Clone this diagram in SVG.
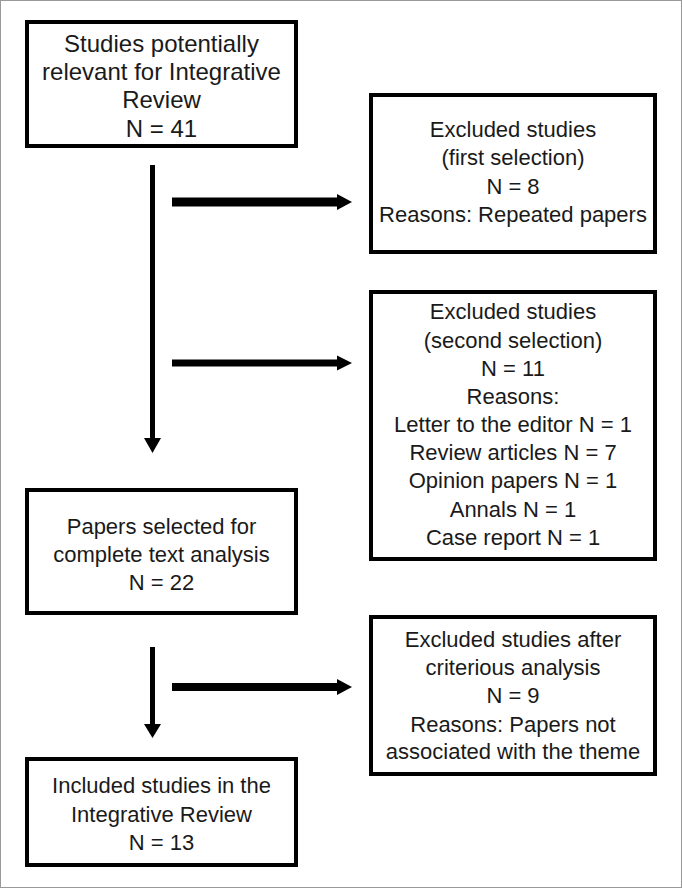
<svg xmlns="http://www.w3.org/2000/svg" width="682" height="888" viewBox="0 0 682 888">
<style>
.box{fill:#fff;stroke:#000;stroke-width:4}
.t{font-family:"Liberation Sans",Arial,sans-serif;font-size:22px;fill:#1a1a1a;text-anchor:middle}
.big{font-size:24px}
.c{fill:#000}
</style>
<rect x="0.5" y="0.5" width="681" height="887" fill="#fff" stroke="#999" stroke-width="1"/>
<g id="connectors">
<rect class="c" x="150" y="165" width="5" height="275"/>
<polygon class="c" points="144,438 161,438 152.5,453"/>
<rect class="c" x="172" y="197.5" width="166" height="9"/>
<polygon class="c" points="337,194 352,202 337,210"/>
<rect class="c" x="172" y="359.5" width="166" height="7"/>
<polygon class="c" points="337,355.5 352,363 337,370.5"/>
<rect class="c" x="150" y="647" width="5" height="79"/>
<polygon class="c" points="144,724 161,724 152.5,738"/>
<rect class="c" x="172" y="683" width="166" height="8"/>
<polygon class="c" points="337,679 352,687 337,695"/>
</g>
<g id="n1">
<rect class="box" x="27" y="22" width="269" height="124"/>
<text class="t big" x="161.5" y="52">Studies potentially</text>
<text class="t big" x="161.5" y="80">relevant for Integrative</text>
<text class="t big" x="161.5" y="108">Review</text>
<text class="t big" x="161.5" y="137">N = 41</text>
</g>
<g id="n2">
<rect class="box" x="371" y="95" width="284" height="157"/>
<text class="t" x="513" y="137">Excluded studies</text>
<text class="t" x="513" y="165">(first selection)</text>
<text class="t" x="513" y="194">N = 8</text>
<text class="t" x="513" y="222">Reasons: Repeated papers</text>
</g>
<g id="n3">
<rect class="box" x="371" y="292" width="284" height="267"/>
<text class="t" x="513" y="319">Excluded studies</text>
<text class="t" x="513" y="348">(second selection)</text>
<text class="t" x="513" y="376">N = 11</text>
<text class="t" x="513" y="404">Reasons:</text>
<text class="t" x="513" y="432">Letter to the editor N = 1</text>
<text class="t" x="513" y="460">Review articles N = 7</text>
<text class="t" x="513" y="488">Opinion papers N = 1</text>
<text class="t" x="513" y="517">Annals N = 1</text>
<text class="t" x="513" y="545">Case report N = 1</text>
</g>
<g id="n4">
<rect class="box" x="27" y="490" width="269" height="123"/>
<text class="t" x="161.5" y="534">Papers selected for</text>
<text class="t" x="161.5" y="562">complete text analysis</text>
<text class="t" x="161.5" y="590">N = 22</text>
</g>
<g id="n5">
<rect class="box" x="371" y="617" width="284" height="157"/>
<text class="t" x="513" y="647">Excluded studies after</text>
<text class="t" x="513" y="675">criterious analysis</text>
<text class="t" x="513" y="703">N = 9</text>
<text class="t" x="513" y="732">Reasons: Papers not</text>
<text class="t" x="513" y="759">associated with the theme</text>
</g>
<g id="n6">
<rect class="box" x="27" y="759" width="269" height="106"/>
<text class="t" x="161.5" y="793">Included studies in the</text>
<text class="t" x="161.5" y="822">Integrative Review</text>
<text class="t" x="161.5" y="850">N = 13</text>
</g>
</svg>
